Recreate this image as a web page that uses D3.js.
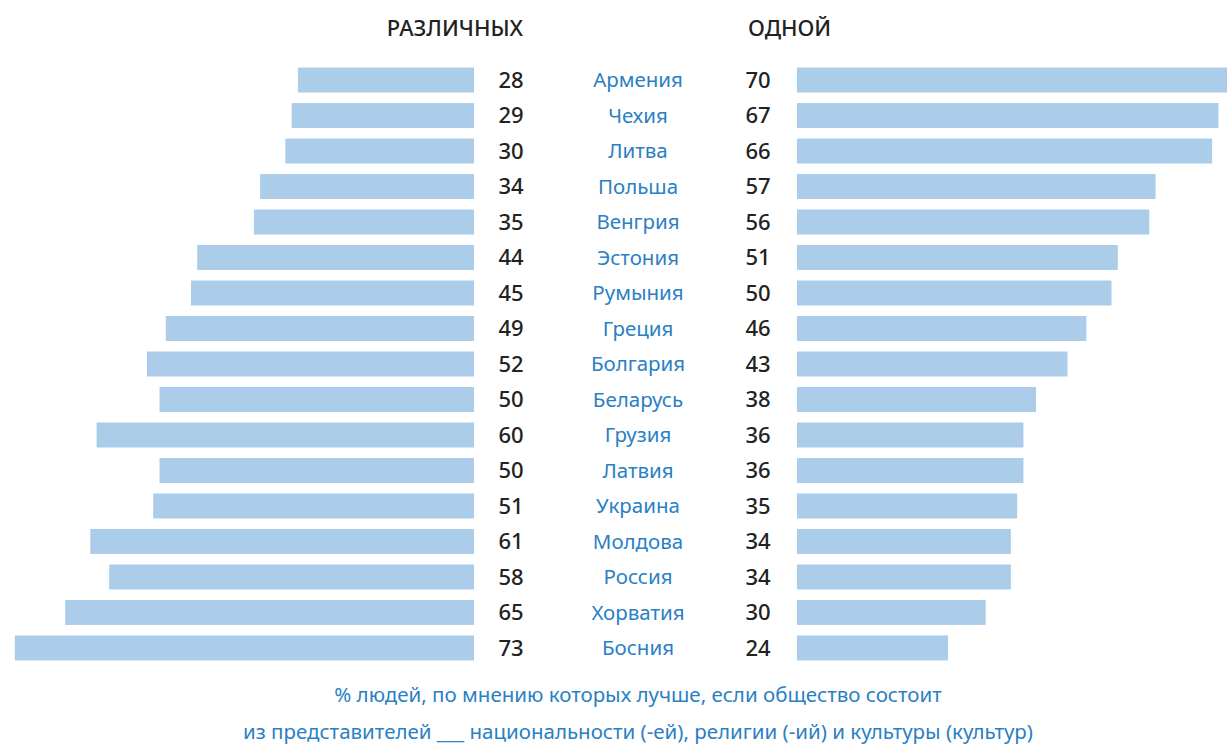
<!DOCTYPE html>
<html>
<head>
<meta charset="utf-8">
<script src="https://cdn.jsdelivr.net/npm/d3@7"></script>
<style>
	body { margin: 0; background: #fff; }
	svg { display: block; font-family: "Noto Sans", sans-serif; }
</style>
</head>
<body>
<div id="chart"></div>
<script>
const countries = ["Армения","Чехия","Литва","Польша","Венгрия","Эстония","Румыния","Греция","Болгария","Беларусь","Грузия","Латвия","Украина","Молдова","Россия","Хорватия","Босния"];
const different = [28,29,30,34,35,44,45,49,52,50,60,50,51,61,58,65,73];
const single = [70,67,66,57,56,51,50,46,43,38,36,36,35,34,34,30,24];
const headers = ["РАЗЛИЧНЫХ","ОДНОЙ"];
const footer = ["% людей, по мнению которых лучше, если общество состоит","из представителей ___ национальности (-ей), религии (-ий) и культуры (культур)"];

const w = 1227, h = 744;
const barColor = "#abcde9", blue = "#2a80c4", dark = "#222";

const svg = d3.select("#chart").append("svg")
	.attr("width", w)
	.attr("height", h);

const y = d3.scaleBand()
	.domain(countries)
	.range([64, 664])
	.paddingInner(0.296)
	.paddingOuter(0.1);

const xLeft = d3.scaleLinear().domain([0, 100]).range([474, 474 - 629]);
const xRight = d3.scaleLinear().domain([0, 100]).range([797, 797 + 629]);

const rows = svg.selectAll(".row")
	.data(countries.map((c,i)=>({c, a:different[i], b:single[i]})))
	.enter().append("g")
	.attr("class","row")
	.attr("transform", d=>`translate(0,${y(d.c)})`);

rows.append("rect")
	.attr("x", d=>xLeft(d.a))
	.attr("width", d=>xLeft(0)-xLeft(d.a))
	.attr("height", y.bandwidth())
	.attr("fill", barColor);

rows.append("rect")
	.attr("x", xRight(0))
	.attr("width", d=>Math.min(xRight(d.b), w)-xRight(0))
	.attr("height", y.bandwidth())
	.attr("fill", barColor);

const mid = y.bandwidth()/2;

rows.append("text")
	.attr("x", 511).attr("y", mid)
	.attr("dy","0.36em")
	.attr("text-anchor","middle")
	.style("font-size","22px").style("font-weight",500)
	.attr("fill", dark)
	.text(d=>d.a);

rows.append("text")
	.attr("x", 758).attr("y", mid)
	.attr("dy","0.36em")
	.attr("text-anchor","middle")
	.style("font-size","22px").style("font-weight",500)
	.attr("fill", dark)
	.text(d=>d.b);

rows.append("text")
	.attr("x", 638).attr("y", mid)
	.attr("dy","0.36em")
	.attr("text-anchor","middle")
	.style("font-size","20.5px")
	.attr("fill", blue)
	.text(d=>d.c);

svg.append("text")
	.attr("x", 523).attr("y", 28)
	.attr("dy","0.36em")
	.attr("text-anchor","end")
	.style("font-size","22px").style("font-weight",500)
	.attr("fill", dark)
	.text(headers[0]);

svg.append("text")
	.attr("x", 748).attr("y", 28)
	.attr("dy","0.36em")
	.attr("text-anchor","start")
	.style("font-size","22px").style("font-weight",500)
	.attr("fill", dark)
	.text(headers[1]);

svg.selectAll(".foot")
	.data(footer)
	.enter().append("text")
	.attr("class","foot")
	.attr("x", 638)
	.attr("y", (d,i)=>695 + i*37)
	.attr("dy","0.36em")
	.attr("text-anchor","middle")
	.style("font-size","20.5px")
	.attr("fill", blue)
	.text(d=>d);
</script>
</body>
</html>
